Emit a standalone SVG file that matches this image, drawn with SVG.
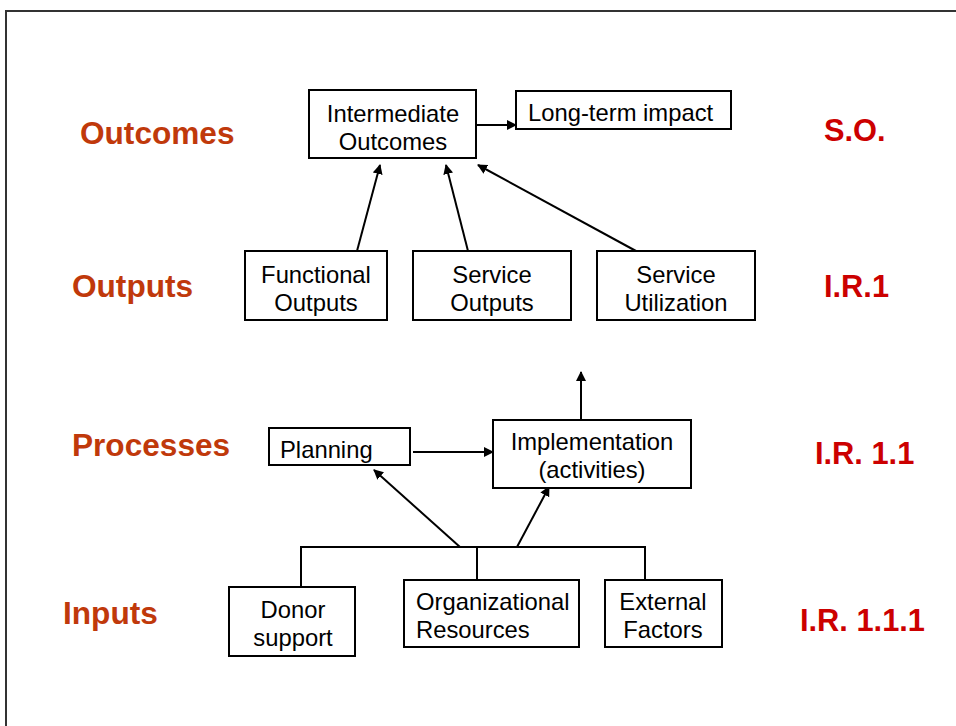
<svg xmlns="http://www.w3.org/2000/svg" width="956" height="726" viewBox="0 0 956 726">
<style>
.box{fill:#fff;stroke:#000;stroke-width:2}
.t{font-family:"Liberation Sans",Arial,sans-serif;font-size:23.8px;fill:#000;text-anchor:middle}
.ts{font-family:"Liberation Sans",Arial,sans-serif;font-size:23.8px;fill:#000}
.lab{font-family:"Liberation Sans",Arial,sans-serif;font-size:31.6px;font-weight:bold;fill:#C0390B}
.ir{font-family:"Liberation Sans",Arial,sans-serif;font-size:30.8px;font-weight:bold;fill:#CC0000}
.c{stroke:#000;stroke-width:2;fill:none}
</style>
<defs>
<marker id="ah" markerWidth="10" markerHeight="10" refX="9" refY="5" orient="auto" markerUnits="userSpaceOnUse">
<path d="M0,0 L10,5 L0,10 z" fill="#000"/>
</marker>
</defs>
<rect x="0" y="0" width="956" height="726" fill="#fff"/>
<path d="M6,726 L6,11 L956,11" fill="none" stroke="#333" stroke-width="2"/>
<g id="labels">
<text class="lab" x="80" y="144">Outcomes</text>
<text class="lab" x="72" y="297">Outputs</text>
<text class="lab" x="72" y="456">Processes</text>
<text class="lab" x="63" y="624">Inputs</text>
<text class="ir" x="824" y="141">S.O.</text>
<text class="ir" x="824" y="297">I.R.1</text>
<text class="ir" x="815" y="464">I.R. 1.1</text>
<text class="ir" x="800" y="631">I.R. 1.1.1</text>
</g>
<g id="connectors">
<line class="c" x1="477" y1="125" x2="516" y2="125" marker-end="url(#ah)"/>
<line class="c" x1="357" y1="251" x2="380" y2="165" marker-end="url(#ah)"/>
<line class="c" x1="468" y1="251" x2="446" y2="165" marker-end="url(#ah)"/>
<line class="c" x1="636" y1="251" x2="478" y2="165" marker-end="url(#ah)"/>
<line class="c" x1="581" y1="420" x2="581" y2="372" marker-end="url(#ah)"/>
<line class="c" x1="413" y1="452" x2="493" y2="452" marker-end="url(#ah)"/>
<polyline class="c" points="301,587 301,547 645,547 645,580"/>
<line class="c" x1="477" y1="547" x2="477" y2="580"/>
<line class="c" x1="460" y1="547" x2="374" y2="470" marker-end="url(#ah)"/>
<line class="c" x1="517" y1="547" x2="549" y2="487" marker-end="url(#ah)"/>
</g>
<g id="intermediate">
<rect class="box" x="309" y="90" width="167" height="68"/>
<text class="t" x="393" y="122">Intermediate</text>
<text class="t" x="393" y="150">Outcomes</text>
</g>
<g id="longterm">
<rect class="box" x="516" y="91" width="215" height="38"/>
<text class="ts" x="528" y="121">Long-term impact</text>
</g>
<g id="functional">
<rect class="box" x="245" y="251" width="142" height="69"/>
<text class="t" x="316" y="283">Functional</text>
<text class="t" x="316" y="311">Outputs</text>
</g>
<g id="serviceoutputs">
<rect class="box" x="413" y="251" width="158" height="69"/>
<text class="t" x="492" y="283">Service</text>
<text class="t" x="492" y="311">Outputs</text>
</g>
<g id="serviceutil">
<rect class="box" x="597" y="251" width="158" height="69"/>
<text class="t" x="676" y="283">Service</text>
<text class="t" x="676" y="311">Utilization</text>
</g>
<g id="planning">
<rect class="box" x="269" y="428" width="141" height="37"/>
<text class="ts" x="280" y="458">Planning</text>
</g>
<g id="implementation">
<rect class="box" x="493" y="420" width="198" height="68"/>
<text class="t" x="592" y="450">Implementation</text>
<text class="t" x="592" y="478">(activities)</text>
</g>
<g id="donor">
<rect class="box" x="229" y="587" width="126" height="69"/>
<text class="t" x="293" y="618">Donor</text>
<text class="t" x="293" y="646">support</text>
</g>
<g id="orgres">
<rect class="box" x="404" y="580" width="175" height="67"/>
<text class="ts" x="416" y="610">Organizational</text>
<text class="ts" x="416" y="638">Resources</text>
</g>
<g id="external">
<rect class="box" x="605" y="580" width="117" height="67"/>
<text class="t" x="663" y="610">External</text>
<text class="t" x="663" y="638">Factors</text>
</g>
</svg>
